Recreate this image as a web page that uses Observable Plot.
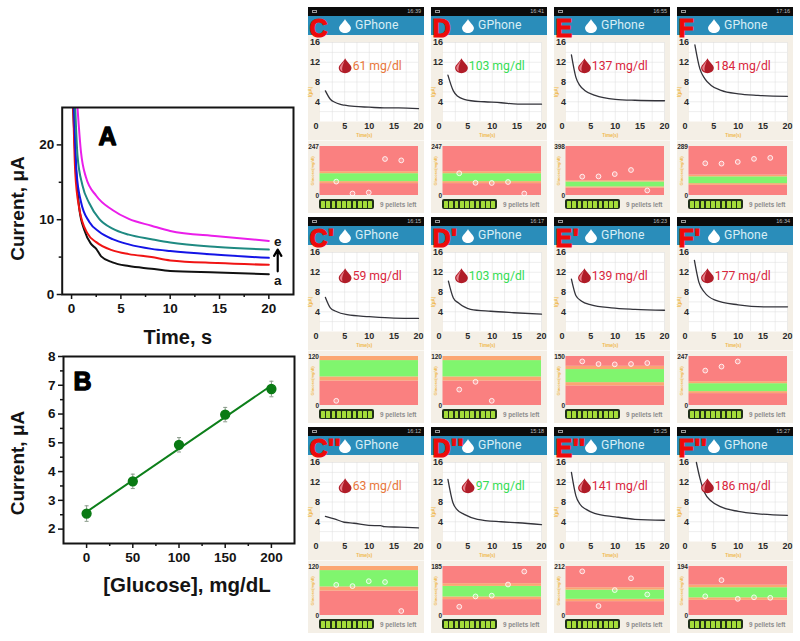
<!DOCTYPE html>
<html><head><meta charset="utf-8">
<script src="https://cdn.jsdelivr.net/npm/d3@7"></script>
<script src="https://cdn.jsdelivr.net/npm/@observablehq/plot@0.6"></script>
<style>
html,body{margin:0;padding:0;background:#fff}
#root{position:relative;width:800px;height:641px;overflow:hidden;background:#fff}
.phone{position:absolute;width:116px;height:206px;background:#f4efe6}
.status{position:absolute;left:0;top:0;width:100%;height:8.5px;background:#0b0b0b;color:#bbb;font:5.5px "Liberation Sans";line-height:8.5px;text-align:right;box-sizing:border-box;padding-right:3px}
.status i{position:absolute;left:4px;top:2.5px;width:5px;height:3.5px;border:.5px solid #999;box-sizing:border-box}
.head{position:absolute;left:0;top:8.5px;width:100%;height:19.5px;background:#2a8dba}
.gphone{position:absolute;left:47px;top:8px;height:20px;color:#d8eef5;font:12.2px/20px Roboto;letter-spacing:.1px}
.letter{position:absolute;left:1.5px;top:11px;color:#ee0a0a;font:bold 25px/20px "Liberation Sans";-webkit-text-stroke:1.2px #ee0a0a;letter-spacing:.5px}
.sep{position:absolute;left:0;top:133px;width:100%;height:1px;background:#fbf9f4}
.batt{position:absolute;left:11px;top:192px;width:55px;height:10px;background:#20301a;border-radius:2px;display:flex;gap:1.5px;padding:1.5px 2px;box-sizing:border-box}
.batt b{flex:1;background:#a5dd3a;border-radius:.5px}
.left{position:absolute;left:72px;top:193px;font:bold 6.3px/9px "Liberation Sans";color:#8c8c8c}
</style></head><body><div id="root"></div>
<script>
// Panel A: current (uA) against time (s), pairs
const curveA_a = [[0.15,25],[0.37,18.6],[0.78,11.5],[1.3,8.6],[1.95,6.8],[2.5,6.1],[3,5.1],[4.15,4.3],[5.8,3.8],[8.1,3.45],[10,3.15],[14.8,2.95],[20,2.7]];
const curveA_b = [[0.17,25],[0.37,16.4],[0.78,11.5],[1.6,8.2],[2.5,7],[4.15,5.9],[5.8,5.4],[8.1,5],[10,4.55],[14.8,4.2],[20,3.97]];
const curveA_c = [[0.24,25],[0.5,16.4],[0.95,12.4],[1.8,9.7],[2.8,8.4],[4.15,7.4],[5.8,6.7],[8.1,6.1],[10,5.8],[14.8,5.3],[20,4.9]];
const curveA_d = [[0.37,25],[0.6,18.6],[1.1,14.6],[1.8,12.2],[2.8,10.1],[4.15,8.8],[5.8,8],[8.1,7.4],[10,6.95],[14.8,6.35],[20,6]];
const curveA_e = [[0.6,25],[0.95,19.1],[1.45,15.7],[2.5,13.2],[4.15,11.3],[5.8,10.1],[8.1,9.2],[10,8.5],[14.8,7.8],[20,7.15]];
const colorsA = ["#111111","#f01414","#1414e6","#1f8a82","#ea1eea"];
// Panel B
const glucose = [0,50,100,150,200];
const currentB = [2.54,3.66,4.93,5.98,6.87];
const errorB = [0.27,0.25,0.25,0.25,0.27];
// Phones
const letters = ["C","D","E","F","C'","D'","E'","F'","C''","D''","E''","F''"];
const clockTimes = ["16:39","16:41","16:55","17:16","16:15","16:17","16:23","16:34","16:12","15:18","15:25","15:27"];
const readings = ["61 mg/dl","103 mg/dl","137 mg/dl","184 mg/dl","59 mg/dl","103 mg/dl","139 mg/dl","177 mg/dl","63 mg/dl","97 mg/dl","141 mg/dl","186 mg/dl"];
const readingColors = ["#e8763a","#35dd55","#d9263c","#d9263c","#d9263c","#35dd55","#d9263c","#d9263c","#e8763a","#35dd55","#d9263c","#d9263c"];
const curves = [
 [[1.1,6.2],[2.1,4.5],[3,3.9],[4,3.5],[5,3.3],[7,3.05],[10,2.9],[13,2.75],[16,2.75],[20,2.6]],
 [[1,9.4],[2.1,6.2],[3,5.1],[4.3,4.5],[5.7,4.2],[8.4,4],[11.8,3.8],[15.2,3.5],[20,3.5]],
 [[1.1,13.5],[2,9],[2.8,7.3],[3.8,6.3],[5.9,5.3],[10,4.5],[14,4.3],[20,4.2]],
 [[1.2,15.5],[2.2,10.7],[3.2,8.7],[4.5,7.3],[6.5,6.3],[10,5.6],[14,5.3],[20,5.1]],
 [[1.1,6.9],[2.1,4.8],[3.2,4.1],[5.5,3.4],[10,3],[15,2.7],[20,2.65]],
 [[1.1,10.2],[2.1,6.8],[3.1,5.8],[5.6,4.5],[9.7,4.1],[14.4,3.8],[20,3.5]],
 [[1.1,10.6],[2,7.3],[3.1,6.2],[5.1,5.4],[9.2,4.8],[14,4.5],[20,4.3]],
 [[1.1,14.4],[2,10],[3.1,8],[5.2,6.4],[10,5.4],[15.4,5],[20,5]],
 [[1.1,5.1],[2.9,4.6],[4.9,3.9],[6.9,3.7],[9.9,3.25],[12.3,3.2],[13,3],[16.4,2.9],[20,2.75]],
 [[1,12.6],[2,7.9],[2.9,6.4],[4.3,5.5],[7,4.5],[11.8,4],[15.2,3.8],[20,3.4]],
 [[1.1,14],[2,9.3],[2.8,7.6],[4.1,6.5],[5.8,5.7],[10,5],[14,4.5],[20,4.3]],
 [[1.5,16],[2.2,12.9],[3.2,9.8],[4.5,8.2],[6.5,7],[10,6.1],[14,5.6],[20,5.3]]
];
const historyMax = [247,247,398,289,120,120,150,247,120,185,212,194];
const histories = [
 [70,10,15,184,177],[112,64,63,68,10],[153,155,174,207,41],[190,188,198,216,222],
 [11.5],[39,58,11.5],[135,127,126,127,130],[176,196,222],
 [75,72,84,82,11],[33,72,75,117,166],[191,41,110,161,91],[76,140,66,72,70]
];
const slotX = [3.3,6.6,9.9,13.2,16.5];
const bandEdges = [0,60,70,110,120];
const bandColors = ["#fa8080","#fba672","#80f56e","#fba672","#fa8080"];
const phoneLefts = [308,431,554,677];
const phoneTops = [7,217,427];

const root = document.getElementById("root");
const place = (left,top)=>({position:"absolute",left:left+"px",top:top+"px",background:"transparent",fontFamily:"'Liberation Sans',Arial,sans-serif",overflow:"visible"});
const pair = arr=>arr.map(([t,v])=>({t,v}));
const ink = "#141414";

const drop = {draw(c,size){const r=Math.sqrt(size/Math.PI);
  c.moveTo(0,-r);
  c.bezierCurveTo(r*.18,-r*.55,r*.85,-r*.1,r*.85,r*.28);
  c.bezierCurveTo(r*.85,r*.72,r*.42,r,0,r);
  c.bezierCurveTo(-r*.42,r,-r*.85,r*.72,-r*.85,r*.28);
  c.bezierCurveTo(-r*.85,-r*.1,-r*.18,-r*.55,0,-r);
  c.closePath();}};
const dropHi = {draw(c,size){const r=Math.sqrt(size/Math.PI);
  c.moveTo(-r*.1,-r*.7);
  c.bezierCurveTo(-r*.4,-r*.2,-r*.7,0,-r*.7,r*.3);
  c.bezierCurveTo(-r*.7,r*.5,-r*.5,r*.7,-r*.35,r*.75);
  c.bezierCurveTo(-r*.5,r*.2,-r*.2,-r*.3,-r*.1,-r*.7);
  c.closePath();}};
const cap = {draw(c,size){const r=Math.sqrt(size/Math.PI);c.moveTo(-r,0);c.lineTo(r,0);}};

function frameTicks(xMajor,xMinor,yMajor,yMinor){
  const common={fontSize:13.5,fontWeight:"bold",color:ink,strokeWidth:1.5,label:null};
  const fmt=d3.format("d");
  return [
    Plot.axisX({...common,ticks:xMajor,tickSize:5,tickPadding:4,anchor:"bottom",tickFormat:fmt}),
    Plot.axisX({...common,ticks:xMinor,tickSize:3,tickFormat:()=>"",anchor:"bottom"}),
    Plot.axisY({...common,ticks:yMajor,tickSize:5,tickPadding:3,anchor:"left",tickFormat:fmt}),
    Plot.axisY({...common,ticks:yMinor,tickSize:3,tickFormat:()=>"",anchor:"left"})
  ];
}
const bigText=(label,x,y)=>Plot.text([label],{x:()=>x,y:()=>y,fontSize:25,fontWeight:"bold",fill:"#000",stroke:"#000",strokeWidth:1.3});

// Panel A
const seriesA=[curveA_a,curveA_b,curveA_c,curveA_d,curveA_e];
root.append(Plot.plot({
  width:300,height:260,marginLeft:61.7,marginRight:7,marginTop:12,marginBottom:61,
  style:place(0,95),
  x:{domain:[-0.95,22.5]},y:{domain:[0,25]},
  marks:[
    ...seriesA.map((s,i)=>Plot.line(pair(s),{x:"t",y:"v",stroke:colorsA[i],strokeWidth:2,curve:"monotone-x",clip:true})),
    ...frameTicks([0,5,10,15,20],[2.5,7.5,12.5,17.5],[0,10,20],[5,15]),
    Plot.frame({stroke:ink,strokeWidth:2}),
    Plot.text(["e"],{x:()=>20.9,y:()=>7.1,fontSize:13.5,fontWeight:"bold",fill:ink}),
    Plot.text(["a"],{x:()=>20.9,y:()=>1.9,fontSize:13.5,fontWeight:"bold",fill:ink}),
    Plot.arrow([0],{x1:()=>20.9,x2:()=>20.9,y1:()=>3.1,y2:()=>6,bend:false,stroke:"#000",strokeWidth:2.2,headLength:8}),
    bigText("A",3.65,21),
    Plot.text(["Current, μA"],{frameAnchor:"middle",rotate:-90,dx:-160,dy:7.5,fontSize:19,fontWeight:"bold",fill:ink}),
    Plot.text(["Time, s"],{frameAnchor:"bottom",dy:49,fontSize:20,fontWeight:"bold",fill:ink})
  ]
}));

// Panel B
const tableB=glucose.map((g,i)=>({g,c:currentB[i],e:errorB[i]}));
const errorEnds=tableB.flatMap(d=>[{g:d.g,y:d.c-d.e},{g:d.g,y:d.c+d.e}]);
root.append(Plot.plot({
  width:300,height:260,marginLeft:63,marginRight:6,marginTop:11,marginBottom:62,
  style:place(0,345),
  x:{domain:[-25,225]},y:{domain:[1.5,8]},
  marks:[
    Plot.ruleX(tableB,{x:"g",y1:d=>d.c-d.e,y2:d=>d.c+d.e,stroke:"#8a9a8a",strokeWidth:1}),
    Plot.dot(errorEnds,{x:"g",y:"y",r:2,symbol:cap,stroke:"#8a9a8a",strokeWidth:1}),
    Plot.linearRegressionY(tableB,{x:"g",y:"c",stroke:"#0d7f1a",strokeWidth:2,ci:0}),
    Plot.dot(tableB,{x:"g",y:"c",r:4.4,fill:"#0a7a14",stroke:"#0a7a14"}),
    ...frameTicks([0,50,100,150,200],[25,75,125,175],[2,3,4,5,6,7,8],[2.5,3.5,4.5,5.5,6.5,7.5]),
    Plot.frame({stroke:ink,strokeWidth:2}),
    bigText("B",-4.3,7.1),
    Plot.text(["Current, μA"],{frameAnchor:"middle",rotate:-90,dx:-161,dy:13,fontSize:19,fontWeight:"bold",fill:ink}),
    Plot.text(["[Glucose], mg/dL"],{frameAnchor:"bottom",dy:48,dx:8,fontSize:20.5,fontWeight:"bold",fill:ink})
  ]
}));

// Phones
letters.forEach((letter,i)=>{
  const col=i%4,row=Math.floor(i/4);
  const phone=document.createElement("div");
  phone.className="phone";
  phone.style.left=phoneLefts[col]+"px";
  phone.style.top=phoneTops[row]+"px";
  const dropPath=d3.path();drop.draw(dropPath,Math.PI*49);
  phone.innerHTML=`<div class="status"><i></i>${clockTimes[i]}</div><div class="head"></div>
   <svg style="position:absolute;left:30.5px;top:11px" width="12" height="16" viewBox="-6 -8 12 16"><path d="${dropPath}" fill="#fff"/></svg>
   <div class="gphone">GPhone</div><div class="letter">${letter}</div><div class="sep"></div>
   <div class="batt">${"<b></b>".repeat(10)}</div><div class="left">9 pellets left</div>`;
  const label=readings[i];
  const dropT=label.length>8?3.75:5.1;
  phone.append(Plot.plot({
    width:116,height:106,marginLeft:11.5,marginRight:6,marginTop:7,marginBottom:20,
    style:place(0,28),
    x:{domain:[0,20]},y:{domain:[0,16]},
    marks:[
      Plot.frame({fill:"#fff"}),
      Plot.gridX({ticks:[2.5,5,7.5,10,12.5,15,17.5,20],stroke:"#dcdcdc",strokeOpacity:1,strokeWidth:.5}),
      Plot.gridY({ticks:[2,4,6,8,10,12,14,16],stroke:"#dcdcdc",strokeOpacity:1,strokeWidth:.5}),
      Plot.line(pair(curves[i]),{x:"t",y:"v",stroke:"#33333a",strokeWidth:1.3,curve:"monotone-x"}),
      Plot.axisX({ticks:[5,10,15,20],tickSize:0,tickPadding:1,fontSize:9,fontWeight:"bold",color:"#2a2a2a",label:null}),
      Plot.axisY({ticks:[4,8,12,16],tickSize:0,tickPadding:0,fontSize:9,fontWeight:"bold",color:"#2a2a2a",label:null}),
      Plot.text(["0"],{x:()=>0,y:()=>0,dx:-4,dy:5,fontSize:9,fontWeight:"bold",fill:"#2a2a2a"}),
      Plot.text(["Time(s)"],{x:()=>9,y:()=>0,dy:14,fontSize:4.5,fontWeight:"bold",fill:"#f0b84a"}),
      Plot.text(["I(μA)"],{x:()=>0,y:()=>6,dx:-9,rotate:-90,fontSize:4.5,fontWeight:"bold",fill:"#f0b84a"}),
      Plot.dot([0],{x:()=>dropT,y:()=>11.3,r:7.5,symbol:drop,fill:"#b01c28"}),
      Plot.dot([0],{x:()=>dropT,y:()=>11.3,r:7.5,symbol:dropHi,fill:"#e8808a"}),
      Plot.text([label],{x:()=>16.6,y:()=>11.3,textAnchor:"end",fontSize:12.2,fontFamily:"Roboto",fill:readingColors[i]})
    ]
  }));
  const top=historyMax[i];
  const edges=[...bandEdges,top];
  phone.append(Plot.plot({
    width:116,height:56,marginLeft:11.5,marginRight:6,marginTop:3,marginBottom:4,
    style:place(0,136),
    x:{domain:[0,20],axis:null},y:{domain:[0,top]},
    marks:[
      Plot.rectY(bandColors.map((fill,k)=>({fill,y1:edges[k],y2:edges[k+1]})),{x1:()=>0,x2:()=>20,y1:"y1",y2:"y2",fill:d=>d.fill}),
      Plot.dot(histories[i],{x:(d,k)=>slotX[k],y:d=>d,r:2.4,stroke:"#fff",strokeOpacity:.85,strokeWidth:1,fill:"#fff",fillOpacity:.2}),
      Plot.axisY({ticks:[0,top],tickSize:0,tickPadding:1,fontSize:6.5,fontWeight:"bold",color:"#2a2a2a",label:null}),
      Plot.text(["Glucose(mg/dl)"],{x:()=>0,y:()=>top*.5,dx:-7.5,rotate:-90,fontSize:4,fontWeight:"bold",fill:"#f0b84a"})
    ]
  }));
  root.append(phone);
});
</script></body></html>
